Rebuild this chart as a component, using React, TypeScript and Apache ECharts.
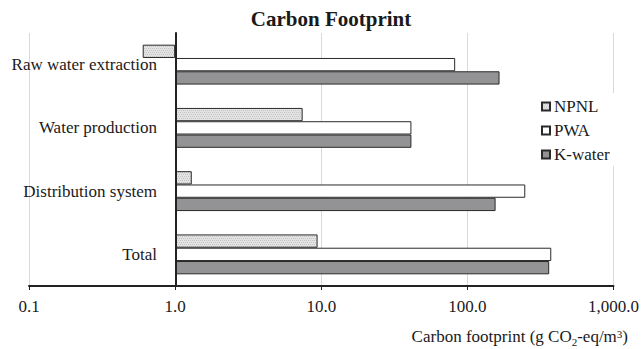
import React, { useEffect, useRef } from 'react';
import * as echarts from 'echarts';

const categories = ['Raw water extraction', 'Water production', 'Distribution system', 'Total'];
const seriesNames = ['NPNL', 'PWA', 'K-water'];
const npnlValues = [0.6, 7.46, 1.3, 9.44];
const pwaValues = [82.5, 41.4, 249, 375];
const kwaterValues = [166, 41.4, 156, 363];
const xTickValues = [0.1, 1, 10, 100, 1000];
const xTickLabels = ['0.1', '1.0', '10.0', '100.0', '1,000.0'];
const titleText = 'Carbon Footprint';

const FONT = 'Liberation Serif';
const TXT = '#1a1a1a';

function makePattern(): any {
  const c = document.createElement('canvas');
  c.width = 4;
  c.height = 4;
  const ctx = c.getContext('2d');
  if (!ctx) return '#dcdcdc';
  ctx.fillStyle = '#e3e3e3';
  ctx.fillRect(0, 0, 4, 4);
  ctx.fillStyle = '#c4c4c4';
  ctx.fillRect(0, 0, 1, 1);
  ctx.fillRect(2, 0, 1, 1);
  ctx.fillRect(1, 2, 1, 1);
  ctx.fillRect(3, 2, 1, 1);
  return { image: c, repeat: 'repeat' };
}

export default function App() {
  const ref = useRef<HTMLDivElement>(null);
  useEffect(() => {
    if (!ref.current) return;
    const chart = echarts.init(ref.current, undefined, { renderer: 'svg' });
    const pattern = makePattern();
    const border = { borderColor: '#2a2a2a', borderWidth: 1 };
    const option: any = {
      animation: false,
      backgroundColor: '#fff',
      textStyle: { fontFamily: FONT },
      grid: { left: 29, right: 25, top: 33, bottom: 63, containLabel: false },
      legend: {
        orient: 'vertical',
        left: 535,
        top: 93,
        padding: [5, 14, 3, 6],
        backgroundColor: '#fff',
        itemWidth: 8,
        itemHeight: 8,
        itemGap: 7,
        icon: 'rect',
        data: seriesNames,
        textStyle: { fontFamily: FONT, fontSize: 17, color: TXT, padding: [0, 0, 0, -1] },
      },
      xAxis: {
        type: 'log',
        logBase: 10,
        min: 0.1,
        max: 1000,
        splitNumber: 4,
        axisLine: { show: true, lineStyle: { color: '#222', width: 2 } },
        axisTick: { show: true, length: 4, lineStyle: { color: '#222', width: 1 } },
        axisLabel: {
          margin: 12,
          fontFamily: FONT,
          fontSize: 17,
          color: TXT,
          formatter: (v: number) => {
            const i = xTickValues.findIndex((t) => Math.abs(Math.log10(t) - Math.log10(v)) < 1e-6);
            return i >= 0 ? xTickLabels[i] : '';
          },
        },
        splitLine: { show: true, lineStyle: { color: '#d9d9d9', width: 1 } },
        minorTick: { show: false },
        minorSplitLine: { show: false },
      },
      yAxis: {
        type: 'category',
        inverse: true,
        data: categories,
        offset: -147,
        axisLine: { show: true, lineStyle: { color: '#222', width: 2 } },
        axisTick: { show: false },
        axisLabel: { margin: 19, fontFamily: FONT, fontSize: 17, color: TXT },
        splitLine: { show: false },
        z: 5,
      },
      series: [
        {
          name: seriesNames[0],
          type: 'bar',
          data: npnlValues,
          barWidth: 13.3,
          barGap: '0%',
          itemStyle: { color: pattern, ...border },
        },
        {
          name: seriesNames[1],
          type: 'bar',
          data: pwaValues,
          barWidth: 13.3,
          barGap: '0%',
          itemStyle: { color: '#ffffff', ...border },
        },
        {
          name: seriesNames[2],
          type: 'bar',
          data: kwaterValues,
          barWidth: 13.3,
          barGap: '0%',
          itemStyle: { color: '#939395', ...border },
        },
      ],
      graphic: [
        {
          type: 'text',
          x: 331,
          y: 19,
          style: {
            text: titleText,
            fontFamily: FONT,
            fontSize: 21,
            fontWeight: 'bold',
            fill: TXT,
            textAlign: 'center',
            textVerticalAlign: 'middle',
          },
        },
        {
          type: 'text',
          x: 628,
          y: 336,
          style: {
            text: '{n|Carbon footprint (g CO}{s|2}{n|-eq/m}{p|3}{n|)}',
            textAlign: 'right',
            textVerticalAlign: 'middle',
            fill: TXT,
            rich: {
              n: { fontFamily: FONT, fontSize: 17, fill: TXT },
              s: { fontFamily: FONT, fontSize: 11, fill: TXT, lineHeight: 11, padding: [9, 0, 0, 0], verticalAlign: 'top' },
              p: { fontFamily: FONT, fontSize: 11, fill: TXT, lineHeight: 11, padding: [1, 0, 0, 0], verticalAlign: 'top' },
            },
          },
        },
      ],
    };
    chart.setOption(option);
    return () => chart.dispose();
  }, []);
  return (
    <div
      ref={ref}
      style={{ position: 'fixed', left: 0, top: 0, width: 642, height: 349, background: '#fff' }}
    />
  );
}
